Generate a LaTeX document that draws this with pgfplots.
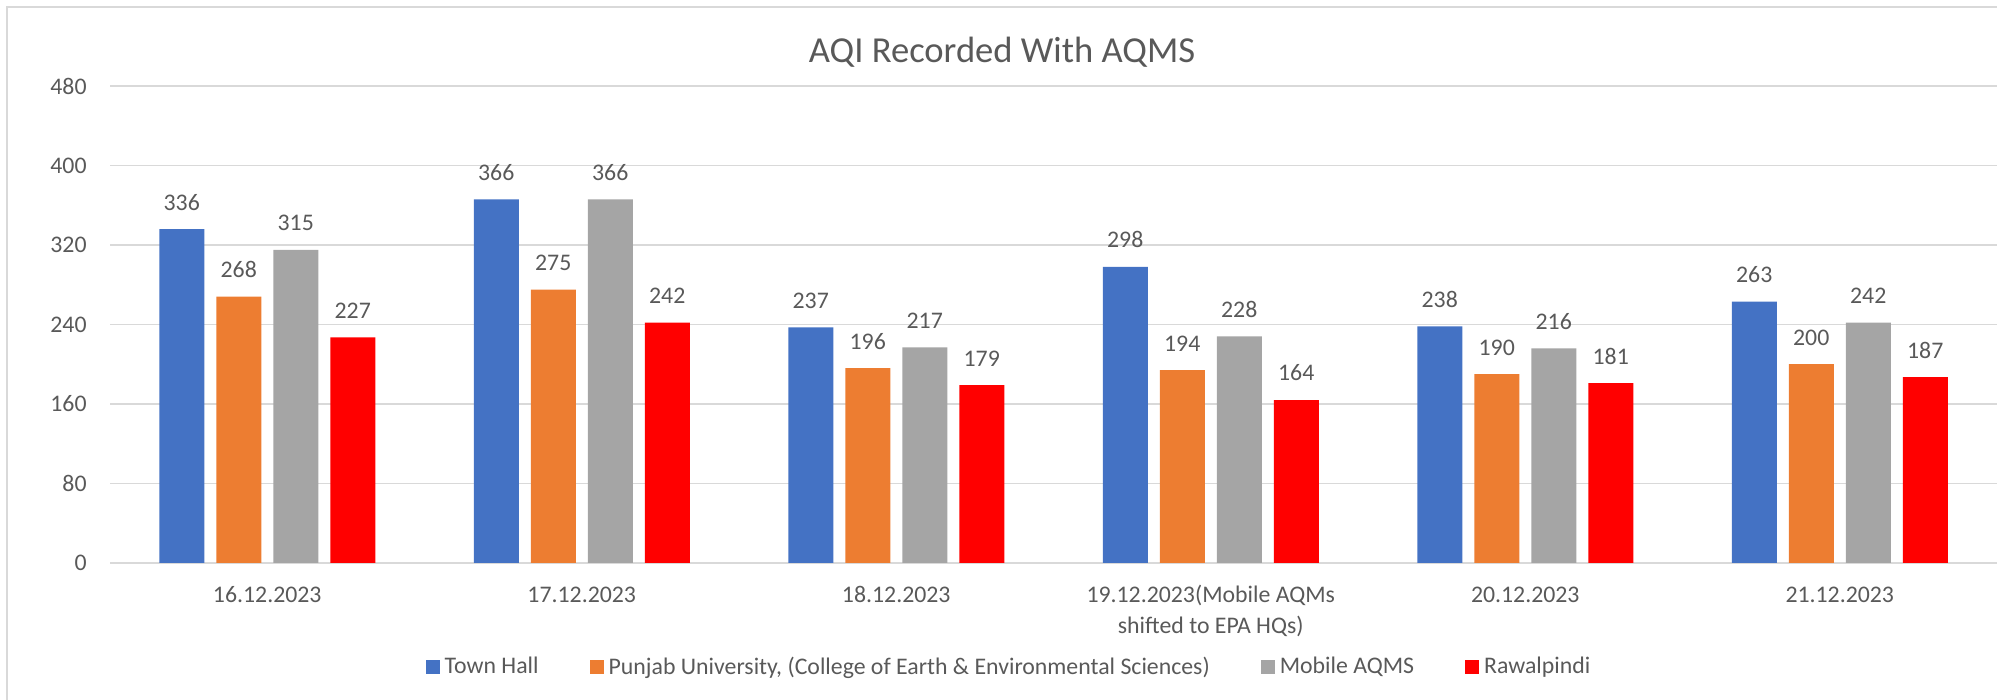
\documentclass[border=0pt]{standalone}
\usepackage{pgfplots}
\pgfplotsset{compat=1.18}
\usepackage{fontspec}
\setmainfont{Carlito}
\definecolor{cblue}{HTML}{4472C4}
\definecolor{corange}{HTML}{ED7D31}
\definecolor{cgray}{HTML}{A5A5A5}
\definecolor{cred}{HTML}{FF0000}
\definecolor{textgray}{HTML}{595959}
\definecolor{gridgray}{HTML}{D9D9D9}
\newcommand{\lblfont}{\fontsize{11.9}{15.5}\selectfont}
\begin{document}
\begin{tikzpicture}
\path (0,0) rectangle (998.5pt,350pt);
\draw[color=gridgray, line width=0.75pt] (3.5pt,0) -- (3.5pt,346.5pt) -- (998.5pt,346.5pt);
\begin{axis}[
  at={(55pt,68.5pt)}, anchor=south west,
  scale only axis, width=943.5pt, height=238.5pt,
  xmin=-0.5, xmax=5.5, ymin=0, ymax=480,
  ytick={0,80,160,240,320,400,480},
  xtick={0,1,2,3,4,5},
  xticklabels={{\rule{0pt}{9pt}16.12.2023},{\rule{0pt}{9pt}17.12.2023},{\rule{0pt}{9pt}18.12.2023},{\rule{0pt}{9pt}19.12.2023(Mobile AQMs\\shifted to EPA HQs)},{\rule{0pt}{9pt}20.12.2023},{\rule{0pt}{9pt}21.12.2023}},
  ybar=6pt, bar width=22.5pt,
  axis line style={draw=none},
  major tick length=0pt,
  ymajorgrids, grid style={color=gridgray, line width=0.7pt},
  /pgf/number format/assume math mode=true,
  tick label style={font=\lblfont, text=textgray},
  yticklabel style={anchor=east, inner sep=0pt, xshift=-11.5pt},
  xticklabel style={anchor=north, inner sep=0pt, yshift=-10.5pt, align=center},
  nodes near coords,
  every node near coord/.append style={font=\lblfont, text=textgray, inner sep=0pt, yshift=9.25pt},
  title={AQI Recorded With AQMS},
  title style={at={(0.4727,1)}, anchor=base, yshift=5.5pt, inner sep=0pt, font=\fontsize{18.3}{22}\selectfont, text=textgray},
  legend image code/.code={\fill[#1,draw=none] (0pt,-3.5pt) rectangle (7pt,3.5pt); \path (9.5pt,0pt);},
  legend columns=4,
  legend style={draw=none, fill=none, at={(0.4759,-0.218)}, anchor=center, font=\lblfont, text=textgray, inner sep=0pt, nodes={inner sep=0pt}, /tikz/every even column/.append style={column sep=25.5pt}},
  legend cell align=left,
]
\addplot[fill=cblue, draw=none] coordinates {(0,336) (1,366) (2,237) (3,298) (4,238) (5,263)};
\addplot[fill=corange, draw=none] coordinates {(0,268) (1,275) (2,196) (3,194) (4,190) (5,200)};
\addplot[fill=cgray, draw=none] coordinates {(0,315) (1,366) (2,217) (3,228) (4,216) (5,242)};
\addplot[fill=cred, draw=none] coordinates {(0,227) (1,242) (2,179) (3,164) (4,181) (5,187)};
\legend{Town Hall, {Punjab University, (College of Earth \& Environmental Sciences)}, Mobile AQMS, Rawalpindi}
\end{axis}
\pgfresetboundingbox
\path[use as bounding box] (0,0) rectangle (998.5pt,350pt);
\end{tikzpicture}
\end{document}
